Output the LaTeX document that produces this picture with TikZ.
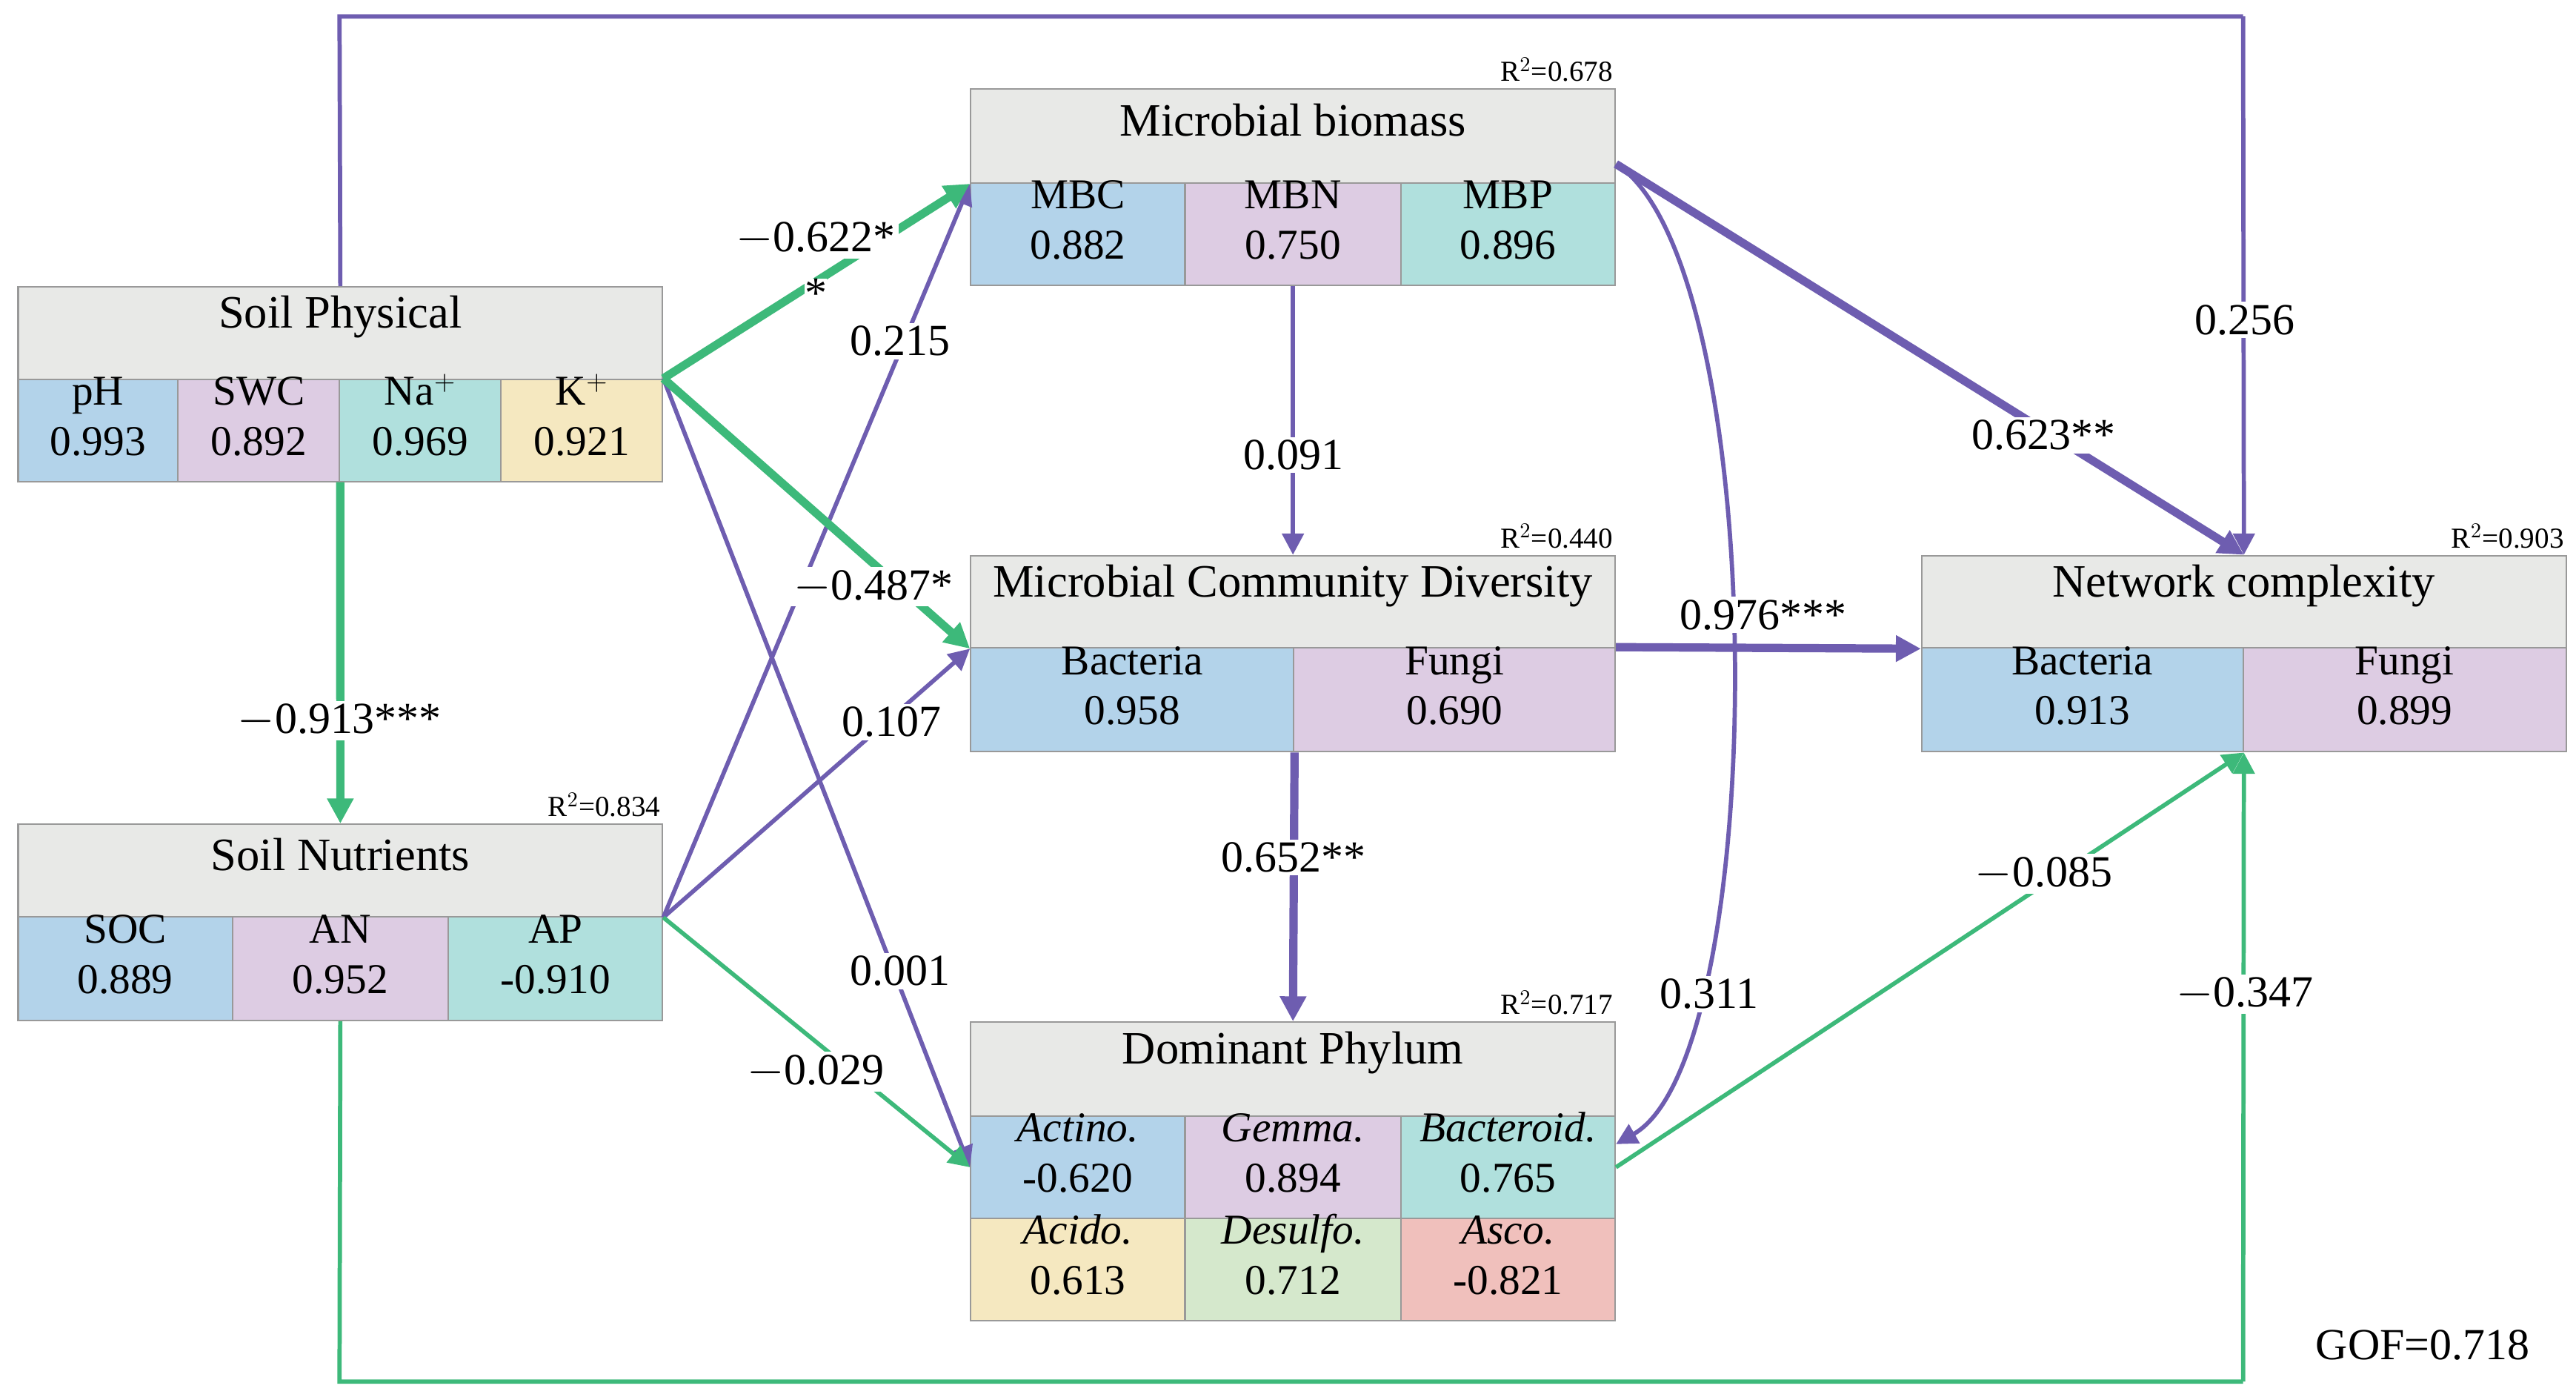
\documentclass[tikz,border=0pt]{standalone}
\usepackage{fontspec}
\setmainfont{Liberation Serif}
\usetikzlibrary{arrows.meta,fit,calc}
\definecolor{hg}{HTML}{E8E9E7}
\definecolor{cb}{HTML}{B3D3EA}
\definecolor{cp}{HTML}{DDCCE3}
\definecolor{ct}{HTML}{B0E0DD}
\definecolor{cy}{HTML}{F5E8C0}
\definecolor{cg}{HTML}{D5E8CC}
\definecolor{cr}{HTML}{F0C0BC}
\definecolor{pu}{HTML}{6E5DB0}
\definecolor{gr}{HTML}{3DB97A}
\begin{document}
\begin{tikzpicture}[x=0.03cm,y=-0.03cm,
 box/.style={draw=gray!80,line width=0.8pt,inner sep=0pt,align=center},
 hdr/.style={box,fill=hg,font=\fontsize{24}{28}\selectfont},
 cell/.style={box,font=\fontsize{22}{26}\selectfont},
 rsq/.style={anchor=south east,inner sep=1pt,font=\fontsize{15}{17}\selectfont},
 lab/.style={fill=white,inner sep=1.5pt,font=\fontsize{23}{26}\selectfont},
 thin/.style={line width=2.2pt,-{Triangle[length=11pt,width=11pt]}},
 thick/.style={line width=4.3pt,-{Triangle[length=13pt,width=13pt]}},
 thinl/.style={line width=2.2pt},
 thickl/.style={line width=4.3pt}]
\useasboundingbox (0,0) rectangle (1563,847);
% Soil Physical
\node[hdr,fit={(11,174)(402,230)}] (sph) {Soil Physical};
\node[cell,fill=cb,fit={(11,230)(108,292)}] (sp1) {pH\\0.993};
\node[cell,fill=cp,fit={(108,230)(206,292)}] (sp2) {SWC\\0.892};
\node[cell,fill=ct,fit={(206,230)(304,292)}] (sp3) {Na$^{+}$\\0.969};
\node[cell,fill=cy,fit={(304,230)(402,292)}] (sp4) {K$^{+}$\\0.921};
% Soil Nutrients
\node[hdr,fit={(11,500)(402,556)}] (snh) {Soil Nutrients};
\node[cell,fill=cb,fit={(11,556)(141,619)}] (sn1) {SOC\\0.889};
\node[cell,fill=cp,fit={(141,556)(272,619)}] (sn2) {AN\\0.952};
\node[cell,fill=ct,fit={(272,556)(402,619)}] (sn3) {AP\\-0.910};
\node[rsq] (rsn) at (402,497) {R$^{2}$=0.834};
% Microbial biomass
\node[hdr,fit={(589,54)(980,111)}] (mbh) {Microbial biomass};
\node[cell,fill=cb,fit={(589,111)(719,173)}] (mb1) {MBC\\0.882};
\node[cell,fill=cp,fit={(719,111)(850,173)}] (mb2) {MBN\\0.750};
\node[cell,fill=ct,fit={(850,111)(980,173)}] (mb3) {MBP\\0.896};
\node[rsq] (rmb) at (980,51) {R$^{2}$=0.678};
% Microbial Community Diversity
\node[hdr,fit={(589,337)(980,393)}] (mch) {Microbial Community Diversity};
\node[cell,fill=cb,fit={(589,393)(785,456)}] (mc1) {Bacteria\\0.958};
\node[cell,fill=cp,fit={(785,393)(980,456)}] (mc2) {Fungi\\0.690};
\node[rsq] (rmc) at (980,334) {R$^{2}$=0.440};
% Dominant Phylum
\node[hdr,fit={(589,620)(980,677)}] (dph) {Dominant Phylum};
\node[cell,fill=cb,fit={(589,677)(719,739)}] (dp1) {\textit{Actino.}\\-0.620};
\node[cell,fill=cp,fit={(719,677)(850,739)}] (dp2) {\textit{Gemma.}\\0.894};
\node[cell,fill=ct,fit={(850,677)(980,739)}] (dp3) {\textit{Bacteroid.}\\0.765};
\node[cell,fill=cy,fit={(589,739)(719,801)}] (dp4) {\textit{Acido.}\\0.613};
\node[cell,fill=cg,fit={(719,739)(850,801)}] (dp5) {\textit{Desulfo.}\\0.712};
\node[cell,fill=cr,fit={(850,739)(980,801)}] (dp6) {\textit{Asco.}\\-0.821};
\node[rsq] (rdp) at (980,617) {R$^{2}$=0.717};
% Network complexity
\node[hdr,fit={(1166,337)(1557,393)}] (nch) {Network complexity};
\node[cell,fill=cb,fit={(1166,393)(1361,456)}] (nc1) {Bacteria\\0.913};
\node[cell,fill=cp,fit={(1361,393)(1557,456)}] (nc2) {Fungi\\0.899};
\node[rsq] (rnc) at (1557,334) {R$^{2}$=0.903};
% coordinates
\coordinate (t1) at (206,10);
\coordinate (t2) at (1361,10);
\coordinate (b1) at (206,838);
\coordinate (b2) at (1361,838);
\coordinate (mbr) at ($(mbh.south east)+(0,-12)$);
\coordinate (dpr) at ($(dp3.east)+(0,-14)$);
% connectors
\draw[pu,thinl] (sph.north) -- (t1) -- (t2);
\draw[pu,thin] (t2) -- (nch.north);
\draw[pu,thin] (sp4.north east) -- (dp1.west);
\draw[pu,thin] (snh.south east) -- (mbh.south west);
\draw[pu,thin] (snh.south east) -- (mch.south west);
\draw[gr,thin] (snh.south east) -- (dp1.west);
\draw[gr,thick] (sp4.north east) -- (mbh.south west);
\draw[gr,thick] (sp4.north east) -- (mch.south west);
\draw[gr,thick] (sp2.south east) -- (snh.north);
\draw[gr,thinl] (sn2.south) -- (b1) -- (b2);
\draw[gr,thin] (b2) -- (nc1.south east);
\draw[pu,thin] (mb2.south) -- (mch.north);
\draw[pu,thick] (mbr) -- (nch.north);
\draw[pu,thin] (mbr) .. controls (1075,160) and (1075,640) .. (dpr);
\draw[pu,thick] (mc2.north east) -- (nch.south west);
\draw[pu,thick] (mc1.south east) -- (dph.north);
\draw[gr,thin] (dp3.east) -- (nc1.south east);
% labels
\node[lab] (l1) at (1362,194) {0.256};
\node[lab] (l2) at (495,145) {$-$0.622*};
\node[lab,inner sep=0pt] (l2b) at (495,178) {*};
\node[lab] (l3) at (546,207) {0.215};
\node[lab] (l4) at (530,356) {$-$0.487*};
\node[lab] (l5) at (541,438) {0.107};
\node[lab] (l6) at (546,589) {0.001};
\node[lab] (l7) at (495,650) {$-$0.029};
\node[lab] (l8) at (206,437) {$-$0.913***};
\node[lab] (l9) at (785,276) {0.091};
\node[lab] (l10) at (1240,264) {0.623**};
\node[lab] (l11) at (1070,373) {0.976***};
\node[lab] (l12) at (785,520) {0.652**};
\node[lab] (l13) at (1037,603) {0.311};
\node[lab] (l14) at (1240,530) {$-$0.085};
\node[lab] (l15) at (1362,603) {$-$0.347};
\node[lab] (gof) at (1470,816) {GOF=0.718};
\end{tikzpicture}
\end{document}
